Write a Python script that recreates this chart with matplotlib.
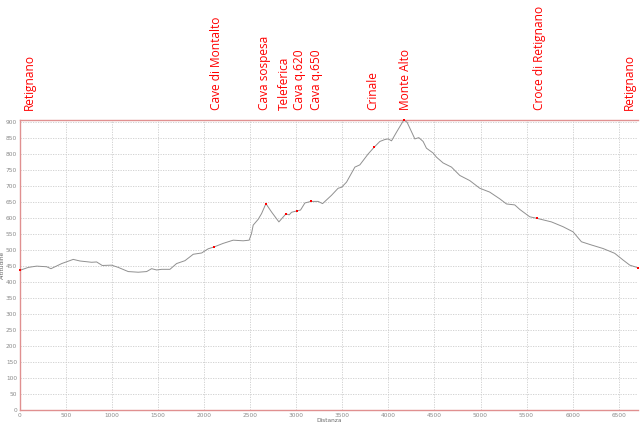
import numpy as np
import matplotlib
matplotlib.use("Agg")
import matplotlib.pyplot as plt

# elevation profile (distance in m, altitude in m)
dist = [0, 90, 181, 290, 336, 380, 453, 578, 651, 778, 832, 893, 995, 1067,
        1175, 1284, 1375, 1429, 1483, 1538, 1628, 1700, 1791, 1881, 1972, 2043,
        2108, 2206, 2315, 2423, 2488, 2514, 2532, 2586, 2623, 2670, 2731, 2811,
        2887, 2923, 2948, 3003, 3046, 3093, 3158, 3237, 3285, 3382, 3454, 3491,
        3545, 3636, 3690, 3780, 3845, 3907, 3961, 3997, 4034, 4088, 4167, 4203,
        4287, 4330, 4377, 4413, 4485, 4522, 4594, 4685, 4775, 4883, 4992, 5100,
        5209, 5282, 5372, 5426, 5534, 5614, 5770, 5896, 6005, 6096, 6204, 6330,
        6457, 6548, 6621, 6710]
alt = [436, 445, 449, 447, 441, 447, 457, 470, 465, 461, 462, 451, 452, 445,
       432, 430, 432, 441, 437, 439, 439, 457, 466, 486, 490, 503,
       509, 520, 530, 528, 530, 551, 577, 595, 613, 644, 618, 587,
       612, 609, 617, 621, 624, 646, 651, 651, 644, 670, 692, 695,
       711, 758, 765, 799, 820, 838, 844, 846, 840, 867, 905, 898,
       846, 850, 838, 817, 802, 789, 771, 758, 732, 716, 692, 680,
       659, 643, 640, 626, 603, 598, 587, 572, 556, 525, 515, 504,
       489, 468, 452, 444]

# waypoints
wp_names = ["Retignano", "Cave di Montalto", "Cava sospesa", "Teleferica",
            "Cava q.620", "Cava q.650", "Crinale", "Monte Alto",
            "Croce di Retignano", "Retignano"]
wp_dist = [0, 2108, 2670, 2887, 3003, 3158, 3845, 4167, 5614, 6710]
wp_alt = [436, 509, 644, 612, 621, 651, 820, 905, 598, 444]

# horizontal pixel nudges for the labels
label_dx = [7, 2, -1, -1, 2, 4, -1, 1, 2, -6]

fig = plt.figure(figsize=(6.4, 4.24), dpi=100)
ax = fig.add_axes([20 / 640, 14 / 424, 618 / 640, 290 / 424])

ax.plot(dist, alt, color="#909090", linewidth=0.7, zorder=3)
ax.plot(wp_dist, wp_alt, linestyle="none", marker="s", markersize=2.1,
        color="red", markeredgewidth=0, zorder=4, clip_on=False)

ax.set_xlim(0, 6710)
ax.set_ylim(0, 905)
ax.set_xticks(np.arange(0, 6501, 500))
ax.set_yticks(np.arange(0, 901, 50))
ax.grid(True, color="#cccccc", linestyle=(0, (1.5, 1.5)), linewidth=0.6)
ax.set_axisbelow(True)
ax.tick_params(length=0, labelsize=4.2, labelcolor="#8a8a8a", pad=2)

for side in ["left", "bottom", "top"]:
    ax.spines[side].set_color("#e09090")
    ax.spines[side].set_linewidth(1.0)
ax.spines["right"].set_visible(False)

ax.set_xlabel("Distanza", fontsize=4.2, color="#6a6a6a", labelpad=0)
ax.set_ylabel("Altitudine", fontsize=4.2, color="#6a6a6a", labelpad=1)

for name, d, dx in zip(wp_names, wp_dist, label_dx):
    ax.annotate(name, xy=(d, 1), xycoords=("data", "axes fraction"),
                xytext=(dx, 7.2), textcoords="offset points",
                rotation=90, ha="center", va="bottom", color="red",
                fontsize=8.6, family=["Open Sans", "DejaVu Sans"],
                annotation_clip=False)

fig.savefig("out.png", dpi=100)
